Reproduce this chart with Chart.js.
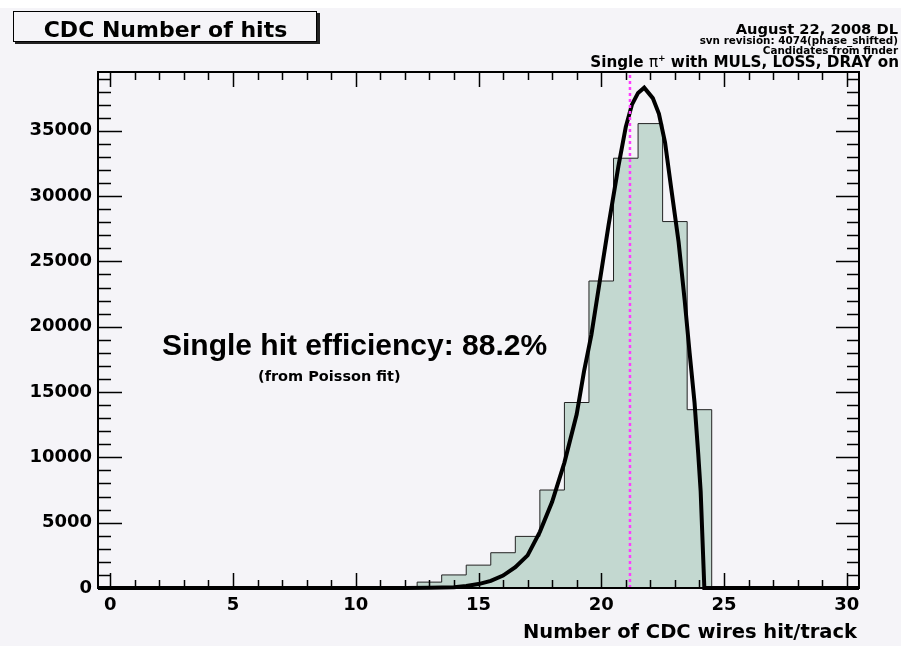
<!DOCTYPE html>
<html>
<head>
<meta charset="utf-8">
<script src="https://cdn.jsdelivr.net/npm/chart.js@4.4.1/dist/chart.umd.min.js"></script>
<style>
  html, body { margin: 0; padding: 0; background: #f5f4f8; }
  canvas { display: block; }
</style>
</head>
<body>
<canvas id="hits" width="901" height="646"></canvas>
<script>
// bin centres (wires hit per track) and entries per bin
const wires = [0,1,2,3,4,5,6,7,8,9,10,11,12,13,14,15,16,17,18,19,20,21,22,23,24,25,26,27,28,29,30];
const counts = [0,0,0,0,0,0,0,0,0,0,0,30,100,450,1000,1750,2700,3950,7500,14200,23500,32900,35550,28050,13650,100,0,0,0,0,0];

// Poisson fit curve, sampled
const fitX = [-0.5, 12, 13, 14, 14.5, 15, 15.5, 16, 16.5, 17, 17.5, 18, 18.5, 19, 19.3, 19.6, 19.9, 20.3, 20.7, 21.0, 21.25, 21.5, 21.75, 22.1, 22.35, 22.6, 22.85, 23.15, 23.4, 23.6, 23.8, 23.95, 24.05, 24.2, 30.5];
const fitY = [0, 0, 20, 60, 150, 300, 550, 950, 1600, 2500, 4300, 6600, 9600, 13300, 16600, 19400, 23000, 27800, 32300, 35300, 37000, 37900, 38300, 37500, 36300, 34100, 30600, 26500, 22000, 18000, 14200, 10300, 7400, 0, 0];

// mean of the distribution (dotted marker)
const meanWires = 21.17;

const xTicks = [0, 5, 10, 15, 20, 25, 30];
const yTicks = [0, 5000, 10000, 15000, 20000, 25000, 30000, 35000];
const xRange = [-0.5, 30.5];
const yMax = 39500;

const BG = '#f5f4f8';

// histogram outline: one point per low bin edge, plus the last high edge
const histPts = wires.map((w, i) => ({ x: w - 0.5, y: counts[i] }));
histPts.push({ x: wires[wires.length - 1] + 0.5, y: counts[counts.length - 1] });

const fitPts = fitX.map((x, i) => ({ x: x, y: fitY[i] }));

// background, ROOT style frame with inward ticks, and the text boxes
const rootStyle = {
  id: 'rootStyle',
  beforeDraw(chart) {
    const c = chart.ctx;
    c.save();
    c.fillStyle = BG;
    c.fillRect(0, 0, chart.width, chart.height);
    c.fillStyle = '#ffffff';
    c.fillRect(0, 0, chart.width, 8);
    c.restore();
  },
  afterDatasetsDraw(chart) {
    const c = chart.ctx;
    const a = chart.chartArea;
    const xs = chart.scales.x, ys = chart.scales.y;
    c.save();
    c.strokeStyle = '#000';
    c.lineWidth = 1.5;
    c.beginPath();
    for (let v = 0; v <= 30; v++) {
      const px = Math.round(xs.getPixelForValue(v)) + 0.5;
      const len = v % 5 === 0 ? 15 : 8;
      c.moveTo(px, a.bottom); c.lineTo(px, a.bottom - len);
      c.moveTo(px, a.top); c.lineTo(px, a.top + len);
    }
    for (let v = 0; v <= yMax; v += 1000) {
      const py = Math.round(ys.getPixelForValue(v)) + 0.5;
      const major = v % 5000 === 0;
      c.moveTo(a.left, py); c.lineTo(a.left + (major ? 24 : 13), py);
      c.moveTo(a.right, py); c.lineTo(a.right - (major ? 23 : 12), py);
    }
    c.stroke();
    c.lineWidth = 2;
    c.strokeRect(a.left, a.top, a.right - a.left, a.bottom - a.top);
    c.restore();
  },
  afterDraw(chart) {
    const c = chart.ctx;
    c.save();

    // title pave with shadow
    c.fillStyle = '#222';
    c.fillRect(15, 13, 305, 31);
    c.fillStyle = BG;
    c.fillRect(13, 11, 304, 31);
    c.strokeStyle = '#000';
    c.lineWidth = 1;
    c.strokeRect(13.5, 11.5, 303, 30);
    c.fillStyle = '#000';
    c.font = 'bold 22px "DejaVu Sans"';
    c.textAlign = 'center';
    c.textBaseline = 'alphabetic';
    c.fillText('CDC Number of hits', 165.5, 37);

    // run info, top right
    c.textAlign = 'right';
    c.font = 'bold 14.7px "DejaVu Sans"';
    c.fillText('August 22, 2008 DL', 898, 34);
    c.font = 'bold 10.4px "DejaVu Sans"';
    c.fillText('svn revision: 4074(phase_shifted)', 898, 44);
    c.fillText('Candidates from finder', 898, 54);

    const parts = [
      { t: 'Single ', f: 'bold 15.2px "DejaVu Sans"', dy: 0 },
      { t: 'π', f: '15.2px "DejaVu Sans"', dy: 0 },
      { t: '+', f: 'bold 9px "DejaVu Sans"', dy: -6 },
      { t: ' with MULS, LOSS, DRAY on', f: 'bold 15.2px "DejaVu Sans"', dy: 0 }
    ];
    let total = 0;
    parts.forEach(p => { c.font = p.f; p.w = c.measureText(p.t).width; total += p.w; });
    let x0 = 899 - total;
    c.textAlign = 'left';
    parts.forEach(p => { c.font = p.f; c.fillText(p.t, x0, 66.5 + p.dy); x0 += p.w; });

    // fit result
    c.font = 'bold 30px "Liberation Sans"';
    c.fillText('Single hit efficiency: 88.2%', 162, 355);
    c.font = 'bold 14.5px "DejaVu Sans"';
    c.fillText('(from Poisson fit)', 258, 381);

    // x axis title
    c.textAlign = 'right';
    c.font = 'bold 19.5px "DejaVu Sans"';
    c.fillText('Number of CDC wires hit/track', 857, 638);
    c.restore();
  }
};

const tickFont = { family: 'DejaVu Sans', size: 18, weight: 'bold' };

const config = {
  type: 'line',
  data: {
    datasets: [
      {
        label: 'mean',
        data: [{ x: meanWires, y: 0 }, { x: meanWires, y: yMax }],
        borderColor: '#ff3cff',
        borderWidth: 2.5,
        borderDash: [3, 3],
        pointRadius: 0,
        fill: false
      },
      {
        label: 'Poisson fit',
        data: fitPts,
        borderColor: '#000000',
        borderWidth: 4,
        pointRadius: 0,
        tension: 0,
        fill: false,
        clip: 4
      },
      {
        label: 'hits',
        data: histPts,
        stepped: 'before',
        borderColor: '#222222',
        borderWidth: 1,
        backgroundColor: '#c3d8d0',
        pointRadius: 0,
        fill: 'origin'
      }
    ]
  },
  options: {
    responsive: false,
    animation: false,
    events: [],
    layout: { padding: { top: 72, right: 42, left: 0, bottom: 0 } },
    plugins: { legend: { display: false }, tooltip: { enabled: false } },
    scales: {
      x: {
        type: 'linear',
        min: xRange[0],
        max: xRange[1],
        grid: { display: false, drawTicks: false },
        border: { display: false },
        afterBuildTicks: s => { s.ticks = xTicks.map(v => ({ value: v })); },
        afterFit: s => { s.height = 58; },
        ticks: { font: tickFont, color: '#000', padding: 7, maxRotation: 0, autoSkip: false }
      },
      y: {
        type: 'linear',
        min: 0,
        max: yMax,
        grid: { display: false, drawTicks: false },
        border: { display: false },
        afterBuildTicks: s => { s.ticks = yTicks.map(v => ({ value: v })); },
        afterFit: s => { s.width = 98; },
        ticks: { font: tickFont, color: '#000', padding: 6, callback: v => String(v) }
      }
    }
  },
  plugins: [rootStyle]
};

const hitsChart = new Chart(document.getElementById('hits'), config);
</script>
</body>
</html>
